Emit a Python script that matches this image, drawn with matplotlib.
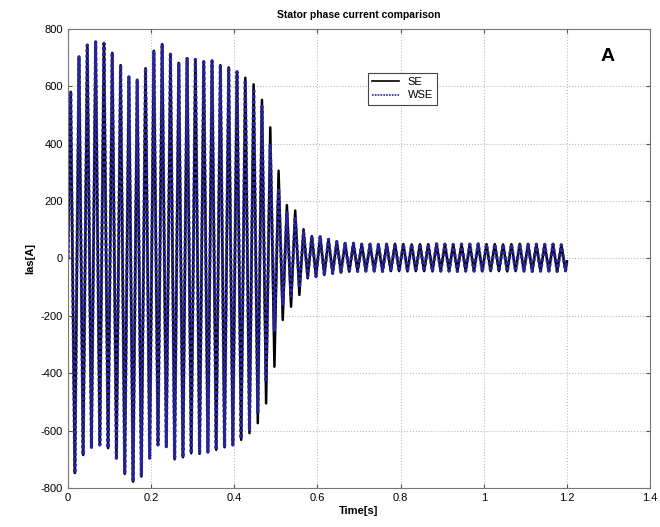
import numpy as np
import matplotlib
matplotlib.use("Agg")
import matplotlib.pyplot as plt
from matplotlib.ticker import FormatStrFormatter

plt.rcParams.update({
    "font.family": "Liberation Sans",
    "font.size": 7.5,
    "xtick.direction": "in",
    "ytick.direction": "in",
    "axes.unicode_minus": False,
})

# supply period and phase of the first positive peak [s]
period = 0.02
first_peak = 0.0065
t_end = 1.2

# positive / negative peak of each cycle, stator current SE [A]
se_peaks = [581, 703, 744, 755, 750, 717, 674, 633, 622, 663,
            724, 747, 712, 682, 697, 694, 686, 689, 674, 666,
            651, 630, 607, 553, 457, 306, 186, 167, 102, 78,
            76, 67, 59, 53, 53, 50, 50, 49, 50, 51,
            50, 49, 50, 50, 51, 50, 49, 50, 50, 51,
            50, 50, 49, 50, 51, 50, 50, 49, 50, 48]
se_troughs = [-748, -685, -658, -650, -661, -696, -751, -778, -760, -696,
              -650, -656, -700, -693, -679, -681, -675, -667, -658, -650,
              -632, -609, -574, -505, -377, -214, -168, -127, -69, -63,
              -57, -52, -48, -46, -45, -44, -44, -45, -44, -44,
              -45, -44, -44, -45, -44, -44, -45, -44, -44, -45,
              -44, -44, -45, -44, -44, -45, -44, -44, -45, -43]

# same for WSE
wse_peaks = [581, 703, 744, 755, 750, 717, 674, 633, 622, 663,
             724, 747, 712, 682, 697, 694, 686, 689, 674, 666,
             651, 622, 592, 530, 395, 245, 160, 145, 92, 78,
             76, 67, 59, 53, 53, 50, 50, 49, 50, 51,
             50, 49, 50, 50, 51, 50, 49, 50, 50, 51,
             50, 50, 49, 50, 51, 50, 50, 49, 50, 48]
wse_troughs = [-748, -685, -658, -650, -661, -696, -751, -778, -760, -696,
               -650, -656, -700, -693, -679, -681, -675, -667, -658, -650,
               -628, -595, -540, -430, -250, -160, -130, -100, -62, -63,
               -57, -52, -48, -46, -45, -44, -44, -45, -44, -44,
               -45, -44, -44, -45, -44, -44, -45, -44, -44, -45,
               -44, -44, -45, -44, -44, -45, -44, -44, -45, -43]

i_start = 0
i_final = -10


def build_trace(peaks, troughs):
    n = len(peaks)
    tp = first_peak + period * np.arange(n)
    tt = tp + period / 2
    t = np.empty(2 * n)
    y = np.empty(2 * n)
    t[0::2], t[1::2] = tp, tt
    y[0::2], y[1::2] = peaks, troughs
    t = np.concatenate([[0.0], t, [t_end]])
    y = np.concatenate([[i_start], y, [i_final]])
    return t, y


t_se, i_se = build_trace(se_peaks, se_troughs)
t_wse, i_wse = build_trace(wse_peaks, wse_troughs)

fig = plt.figure(figsize=(6.6, 5.27), dpi=100)
ax = fig.add_axes([0.103, 0.074, 0.882, 0.871])

ax.plot(t_se, i_se, color="black", linewidth=1.8, label="SE")
ax.plot(t_wse, i_wse, color="#26269a", linestyle=(0, (1, 0.7)), linewidth=2.3, label="WSE")

ax.set_xlim(0, 1.4)
ax.set_ylim(-800, 800)
ax.set_xticks(np.arange(0, 1.41, 0.2))
ax.set_yticks(np.arange(-800, 801, 200))
ax.xaxis.set_major_formatter(FormatStrFormatter("%g"))
ax.grid(True, color="#bbbbbb", linestyle=":", linewidth=0.8)
ax.tick_params(length=3, color="#555555", top=True, right=True, labelsize=8)
for s in ax.spines.values():
    s.set_color("#777777")
    s.set_linewidth(0.8)

ax.set_title("Stator phase current comparison", fontsize=7.5, fontweight="bold", pad=8)
ax.set_xlabel("Time[s]", fontsize=8, fontweight="bold", labelpad=2)
ax.set_ylabel("Ias[A]", fontsize=8, fontweight="bold", labelpad=4)

leg = ax.legend(loc="upper left", bbox_to_anchor=(0.505, 0.917), fontsize=8,
                fancybox=False, edgecolor="#444444", framealpha=1,
                handlelength=2.4, borderpad=0.4, labelspacing=0.3)
leg.get_frame().set_linewidth(0.8)
for h in leg.get_lines():
    h.set_linewidth(1.2)

fig.text(0.91, 0.885, "A", fontsize=14, fontweight="bold")

fig.savefig("out.png", dpi=100)
